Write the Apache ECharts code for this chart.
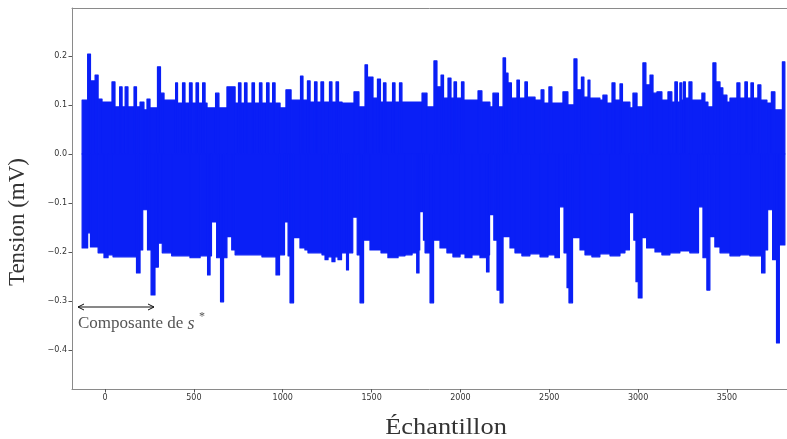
<!DOCTYPE html>
<html>
<head>
<meta charset="utf-8">
<script src="https://cdn.jsdelivr.net/npm/echarts@6/dist/echarts.min.js"></script>
<style>
html,body{margin:0;padding:0;background:#fff;}
#chart{width:787px;height:439px;}
</style>
</head>
<body>
<div id="chart"></div>
<script>
// Upper envelope of the signal: [sample index, tension (mV)], each level held until the next point
const upperEnvelope = [
[-129,0.110],[-98,0.204],[-82,0.149],[-56,0.161],[-39,0.112],[-17,0.106],[39,0.147],[56,0.096],
[82,0.137],[96,0.096],[113,0.137],[129,0.096],[163,0.137],[177,0.096],[197,0.106],[219,0.090],
[236,0.112],[253,0.094],[295,0.178],[312,0.124],[332,0.110],[397,0.145],[408,0.104],[436,0.145],
[450,0.104],[475,0.145],[490,0.104],[512,0.145],[526,0.104],[549,0.145],[563,0.104],[574,0.094],
[622,0.124],[641,0.094],[686,0.137],[732,0.104],[751,0.145],[765,0.104],[785,0.145],[799,0.104],
[827,0.145],[841,0.104],[869,0.145],[883,0.104],[909,0.145],[923,0.104],[943,0.145],[957,0.104],
[985,0.094],[1018,0.131],[1047,0.110],[1100,0.159],[1114,0.110],[1139,0.149],[1154,0.106],[1179,0.147],
[1193,0.106],[1215,0.147],[1230,0.106],[1263,0.147],[1277,0.106],[1300,0.147],[1314,0.106],[1334,0.104],
[1401,0.127],[1429,0.096],[1463,0.182],[1477,0.157],[1508,0.114],[1533,0.153],[1550,0.106],[1567,0.145],
[1581,0.106],[1618,0.145],[1632,0.106],[1657,0.145],[1671,0.106],[1784,0.124],[1812,0.096],[1851,0.190],
[1868,0.137],[1891,0.161],[1905,0.114],[1930,0.155],[1947,0.114],[1964,0.147],[1978,0.114],[2006,0.147],
[2020,0.110],[2099,0.129],[2121,0.106],[2166,0.096],[2183,0.124],[2214,0.096],[2240,0.196],[2254,0.165],
[2268,0.145],[2287,0.114],[2318,0.151],[2332,0.114],[2363,0.147],[2377,0.116],[2420,0.110],[2454,0.131],
[2470,0.104],[2498,0.137],[2515,0.104],[2577,0.127],[2605,0.100],[2639,0.194],[2656,0.131],[2681,0.157],
[2695,0.116],[2718,0.151],[2729,0.114],[2785,0.110],[2802,0.120],[2825,0.104],[2853,0.145],[2870,0.110],
[2898,0.143],[2912,0.106],[2954,0.094],[2971,0.124],[2994,0.096],[3027,0.186],[3044,0.141],[3067,0.161],
[3084,0.124],[3106,0.127],[3134,0.110],[3168,0.127],[3190,0.106],[3207,0.147],[3221,0.106],[3235,0.145],
[3246,0.110],[3255,0.147],[3266,0.114],[3286,0.147],[3303,0.110],[3359,0.124],[3376,0.106],[3393,0.096],
[3421,0.186],[3438,0.147],[3461,0.135],[3477,0.120],[3500,0.106],[3517,0.114],[3556,0.145],[3573,0.114],
[3601,0.147],[3615,0.114],[3635,0.145],[3649,0.114],[3674,0.141],[3691,0.110],[3725,0.104],[3750,0.127],
[3770,0.090],[3812,0.188],[3826,0.188]
];

// Lower envelope of the signal: [sample index, tension (mV)]
const lowerEnvelope = [
[-129,-0.192],[-98,-0.161],[-82,-0.190],[-39,-0.202],[-6,-0.212],[17,-0.206],[45,-0.210],[177,-0.243],
[197,-0.196],[212,-0.114],[239,-0.196],[259,-0.288],[281,-0.231],[300,-0.182],[322,-0.202],[375,-0.208],
[478,-0.212],[535,-0.208],[577,-0.247],[591,-0.208],[599,-0.139],[628,-0.212],[650,-0.302],[667,-0.212],
[686,-0.169],[713,-0.196],[732,-0.206],[883,-0.210],[962,-0.247],[982,-0.206],[1010,-0.139],[1030,-0.208],
[1041,-0.304],[1061,-0.171],[1097,-0.192],[1125,-0.196],[1142,-0.202],[1221,-0.206],[1238,-0.216],[1255,-0.210],
[1277,-0.220],[1294,-0.210],[1311,-0.216],[1331,-0.202],[1359,-0.237],[1370,-0.202],[1394,-0.129],[1419,-0.206],
[1435,-0.304],[1455,-0.176],[1491,-0.196],[1553,-0.202],[1592,-0.212],[1649,-0.208],[1688,-0.206],[1728,-0.202],
[1754,-0.243],[1767,-0.196],[1771,-0.118],[1792,-0.176],[1801,-0.202],[1829,-0.304],[1849,-0.176],[1885,-0.192],
[1924,-0.202],[1958,-0.210],[1998,-0.204],[2026,-0.212],[2065,-0.206],[2110,-0.212],[2147,-0.241],[2161,-0.206],
[2164,-0.124],[2188,-0.176],[2206,-0.278],[2223,-0.304],[2240,-0.169],[2279,-0.192],[2307,-0.202],[2346,-0.208],
[2391,-0.204],[2448,-0.210],[2493,-0.206],[2532,-0.212],[2557,-0.108],[2583,-0.202],[2600,-0.273],[2611,-0.304],
[2631,-0.171],[2673,-0.196],[2701,-0.206],[2740,-0.210],[2785,-0.204],[2842,-0.208],[2898,-0.202],[2926,-0.196],
[2951,-0.120],[2976,-0.176],[2988,-0.261],[3001,-0.294],[3022,-0.171],[3048,-0.192],[3095,-0.200],[3134,-0.206],
[3179,-0.202],[3235,-0.198],[3291,-0.202],[3340,-0.108],[3365,-0.212],[3387,-0.278],[3404,-0.169],[3432,-0.190],
[3461,-0.202],[3517,-0.208],[3573,-0.206],[3629,-0.208],[3695,-0.243],[3714,-0.196],[3729,-0.114],[3757,-0.216],
[3779,-0.386],[3795,-0.186],[3826,-0.186]
];

const xTickValues = [0, 500, 1000, 1500, 2000, 2500, 3000, 3500];
const yTickValues = [-0.4, -0.3, -0.2, -0.1, 0.0, 0.1, 0.2];
const xRange = [-186, 3838];
const yRange = [-0.48, 0.298];

const blue = '#0a1ff6';
const spine = '#8a8a8a';

// Each envelope level becomes a segment [start sample, end sample, level]
function toSegments(env) {
  const out = [];
  for (let i = 0; i + 1 < env.length; i++) {
    out.push([env[i][0], env[i + 1][0], env[i][1]]);
  }
  return out;
}

const chart = echarts.init(document.getElementById('chart'), null, {renderer: 'canvas'});

function yFmt(v) {
  const s = Math.abs(v).toFixed(1);
  return (v < -1e-9 ? '\u2212' : '') + s;
}

function renderSegment(params, api) {
  const a = api.coord([api.value(0), api.value(2)]);
  const b = api.coord([api.value(1), 0]);
  const x = Math.min(a[0], b[0]);
  const y = Math.min(a[1], b[1]);
  return {
    type: 'rect',
    shape: {x: x, y: y, width: Math.abs(b[0] - a[0]), height: Math.abs(b[1] - a[1])},
    style: {fill: blue, stroke: blue, lineWidth: 1.2, lineJoin: 'round'}
  };
}

const bandSeries = (env) => ({
  type: 'custom',
  data: toSegments(env),
  encode: {x: [0, 1], y: 2},
  renderItem: renderSegment,
  silent: true,
  animation: false,
  z: 2
});

chart.setOption({
  animation: false,
  backgroundColor: '#ffffff',
  grid: {left: 72, top: 8, right: 0, bottom: 50, containLabel: false},
  xAxis: [{
    type: 'value', min: xRange[0], max: xRange[1], position: 'bottom',
    axisLine: {show: true, onZero: false, lineStyle: {color: spine, width: 1}},
    axisTick: {show: true, inside: false, length: 3.5, lineStyle: {color: '#555'}, customValues: xTickValues},
    axisLabel: {show: true, customValues: xTickValues, fontSize: 8, color: '#333', margin: 5, fontFamily: 'DejaVu Sans',
      formatter: (v) => String(Math.round(v))},
    splitLine: {show: false}
  }, {
    type: 'value', min: xRange[0], max: xRange[1], position: 'top',
    axisLine: {show: true, onZero: false, lineStyle: {color: spine, width: 1}},
    axisTick: {show: false}, axisLabel: {show: false}, splitLine: {show: false}
  }],
  yAxis: {
    type: 'value', min: yRange[0], max: yRange[1],
    axisLine: {show: true, onZero: false, lineStyle: {color: spine, width: 1}},
    axisTick: {show: true, inside: false, length: 3.5, lineStyle: {color: '#555'}, customValues: yTickValues},
    axisLabel: {show: true, customValues: yTickValues, fontSize: 8, color: '#333', margin: 5, fontFamily: 'DejaVu Sans', formatter: yFmt},
    splitLine: {show: false}
  },
  series: [bandSeries(upperEnvelope), bandSeries(lowerEnvelope)],
  graphic: [
    {type: 'text', x: 18, y: 222, rotation: Math.PI / 2,
     style: {text: 'Tension (mV)', font: '23px "Liberation Serif"', fill: '#333', align: 'center', verticalAlign: 'middle'}},
    {type: 'text', x: 446, y: 428, scaleX: 1.1,
     style: {text: '\u00c9chantillon', font: '24px "Liberation Serif"', fill: '#333', align: 'center', verticalAlign: 'middle'}},
    {type: 'line', shape: {x1: 78, y1: 307, x2: 154, y2: 307}, style: {stroke: '#111', lineWidth: 1}},
    {type: 'polyline', shape: {points: [[84, 304], [78, 307], [84, 310]]}, style: {stroke: '#111', lineWidth: 1, fill: null}},
    {type: 'polyline', shape: {points: [[148, 304], [154, 307], [148, 310]]}, style: {stroke: '#111', lineWidth: 1, fill: null}},
    {type: 'text', x: 78, y: 324,
     style: {text: 'Composante de {s|s}', font: '17px "Liberation Serif"', fill: '#555', verticalAlign: 'middle',
       rich: {s: {font: 'italic 18px "Liberation Serif"', fill: '#555'}}}},
    {type: 'text', x: 199, y: 317,
     style: {text: '*', font: '12px "Liberation Serif"', fill: '#555', verticalAlign: 'middle'}}
  ]
});
</script>
</body>
</html>
